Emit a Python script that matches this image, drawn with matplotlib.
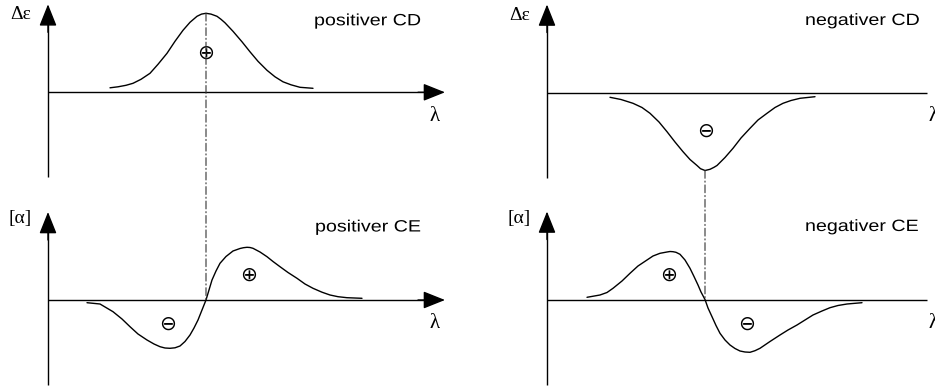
import numpy as np
import matplotlib
matplotlib.use("Agg")
import matplotlib.pyplot as plt
from matplotlib.patches import ConnectionPatch
from matplotlib.patheffects import AbstractPathEffect
from matplotlib.transforms import Affine2D

# ---- curve data: wavelength (arbitrary units) and signal (arbitrary units) ----
cd_pos_lam = [6.2, 7.0, 7.8, 8.5, 9.3, 10.2, 11.0, 11.9, 12.7, 13.5, 14.2, 14.9,
              15.35, 15.8, 16.3, 16.9, 17.3, 17.7, 18.5, 19.4, 20.2, 21.0, 21.9,
              22.7, 23.5, 24.3, 25.2, 26.5]
cd_pos_val = [0.45, 0.55, 0.7, 0.9, 1.3, 1.9, 2.8, 3.9, 5.1, 6.2, 7.0, 7.6,
              7.82, 7.9, 7.82, 7.6, 7.3, 6.95, 6.1, 5.05, 4.05, 3.1, 2.2,
              1.55, 1.05, 0.75, 0.5, 0.4]

cd_neg_lam = [6.3, 7.4, 8.6, 9.5, 10.3, 11.2, 12.0, 12.8, 13.6, 14.3, 15.0, 15.35,
              15.8, 16.3, 16.7, 17.0, 17.8, 18.6, 19.4, 20.3, 21.1, 22.0, 22.8,
              23.6, 24.4, 25.3, 26.8]
cd_neg_val = [-0.48, -0.7, -1.08, -1.5, -2.08, -2.95, -3.92, -4.95, -5.92, -6.7,
              -7.3, -7.62, -7.8, -7.68, -7.48, -7.3, -6.5, -5.58, -4.55, -3.58,
              -2.75, -2.08, -1.5, -1.08, -0.8, -0.58, -0.42]

ce_pos_lam = [3.9, 5.2, 6.5, 7.4, 8.2, 9.0, 9.9, 10.6, 11.2, 11.7, 12.2, 12.7,
              13.2, 13.7, 14.2, 14.6, 15.0, 15.4, 15.8, 16.1, 16.4, 16.8, 17.2,
              17.8, 18.5, 19.2, 19.55, 19.9, 20.2, 20.5, 21.2, 21.9, 22.5, 23.2,
              24.0, 24.9, 25.7, 26.5, 27.4, 28.2, 29.0, 29.9, 31.4]
ce_pos_val = [-0.27, -0.4, -1.17, -1.9, -2.67, -3.4, -4.0, -4.4, -4.67, -4.8,
              -4.83, -4.78, -4.6, -4.15, -3.5, -2.8, -2.0, -1.0, 0.0, 1.0, 2.0,
              2.9, 3.67, 4.35, 4.9, 5.15, 5.23, 5.27, 5.25, 5.17, 4.8, 4.33,
              3.85, 3.33, 2.75, 2.17, 1.6, 1.17, 0.78, 0.5, 0.33, 0.23, 0.17]

ce_neg_lam = [4.0, 5.3, 6.0, 6.6, 7.5, 8.3, 9.1, 10.0, 10.6, 11.3, 12.0, 12.3,
              12.6, 12.9, 13.3, 13.8, 14.3, 14.7, 15.1, 15.4, 15.8, 16.1, 16.5,
              16.9, 17.3, 17.8, 18.3, 18.8, 19.3, 19.8, 20.3, 20.8, 21.3, 22.3,
              23.3, 24.1, 25.0, 25.8, 26.6, 27.5, 28.3, 29.1, 30.0, 31.5]
ce_neg_val = [0.22, 0.45, 0.7, 1.12, 1.85, 2.62, 3.35, 3.95, 4.35, 4.62, 4.75,
              4.8, 4.78, 4.72, 4.52, 3.95, 3.12, 2.3, 1.45, 0.75, 0.0, -0.85,
              -1.72, -2.6, -3.38, -4.05, -4.55, -4.9, -5.15, -5.25, -5.28,
              -5.12, -4.88, -4.2, -3.55, -3.05, -2.55, -2.05, -1.55, -1.15,
              -0.82, -0.6, -0.45, -0.32]

# ---- labels ----
titles = ["positiver CD", "negativer CD", "positiver CE", "negativer CE"]
ylabels = ["Δε", "Δε", "[α]", "[α]"]
xlabel = "λ"
# sign markers: (λ, value, symbol)
signs_cd_pos = [(15.8, 3.93, "⊕")]
signs_cd_neg = [(15.9, -3.85, "⊖")]
signs_ce_pos = [(12.0, -2.4, "⊖"), (20.1, 2.5, "⊕")]
signs_ce_neg = [(12.2, 2.45, "⊕"), (20.0, -2.45, "⊖")]

W, H = 935, 389
DPI = 100
fig = plt.figure(figsize=(W / DPI, H / DPI), dpi=DPI)
fig.patch.set_facecolor("white")

UNIT = 10.0  # pixels per data unit in every panel


class HStretch(AbstractPathEffect):
    """Widen glyphs horizontally about the text origin."""

    def __init__(self, factor):
        super().__init__()
        self._factor = factor

    def draw_path(self, renderer, gc, tpath, affine, rgbFace=None):
        renderer.draw_path(gc, tpath, Affine2D().scale(self._factor, 1.0) + affine,
                           rgbFace)


def make_panel(ox, oy):
    """Full-figure transparent axes whose origin sits at pixel (ox, oy)."""
    ax = fig.add_axes([0, 0, 1, 1])
    ax.set_xlim(-ox / UNIT, (W - ox) / UNIT)
    ax.set_ylim((oy - H) / UNIT, oy / UNIT)
    ax.axis("off")
    ax.patch.set_alpha(0)
    return ax


def draw_frame(ax, ylab, title, title_x, title_y, ylab_y):
    arrow = dict(arrowstyle="-|>,head_length=13.5,head_width=5.4",
                 mutation_scale=1, lw=1.0, color="black",
                 shrinkA=0, shrinkB=0)
    ax.plot([0, 0], [-8.5, 7.5], color="black", lw=1.0, solid_capstyle="butt")
    ax.annotate("", xy=(0, 8.8), xytext=(0, 6.0), arrowprops=arrow)
    ax.plot([0, 38.0], [0, 0], color="black", lw=1.0, solid_capstyle="butt")
    ax.annotate("", xy=(39.7, 0), xytext=(37.0, 0), arrowprops=arrow)
    ax.text(-2.75, ylab_y, ylab, ha="center", va="baseline", fontsize=14,
            family=["Liberation Serif", "DejaVu Serif"])
    ax.text(38.7, -2.4, xlabel, ha="center", va="center", fontsize=15,
            family=["Liberation Serif", "DejaVu Serif"])
    ax.text(title_x, title_y, title, ha="left", va="baseline", fontsize=11.8,
            family=["Liberation Sans", "DejaVu Sans"],
            path_effects=[HStretch(1.2)])


def draw_curve(ax, lam, val, signs):
    ax.plot(lam, val, color="black", lw=1.0, solid_joinstyle="round",
            solid_capstyle="round")
    for x, y, s in signs:
        ax.text(x, y, s, ha="center", va="center", fontsize=14.5,
                family=["DejaVu Sans"])


ax_ul = make_panel(48, 92.3)
ax_ur = make_panel(547, 92.5)
ax_ll = make_panel(48, 300)
ax_lr = make_panel(547, 299.5)

draw_frame(ax_ul, ylabels[0], titles[0], 26.6, 6.7, 7.3)
draw_frame(ax_ur, ylabels[1], titles[1], 25.8, 6.75, 7.3)
draw_frame(ax_ll, ylabels[2], titles[2], 26.7, 6.85, 7.7)
draw_frame(ax_lr, ylabels[3], titles[3], 25.8, 6.85, 7.7)

draw_curve(ax_ul, cd_pos_lam, cd_pos_val, signs_cd_pos)
draw_curve(ax_ur, cd_neg_lam, cd_neg_val, signs_cd_neg)
draw_curve(ax_ll, ce_pos_lam, ce_pos_val, signs_ce_pos)
draw_curve(ax_lr, ce_neg_lam, ce_neg_val, signs_ce_neg)


def zero_crossing(lam, val):
    i = int(np.argmin(np.abs(np.asarray(val))[3:-3])) + 3
    return lam[i], val[i]


def extremum(lam, val):
    v = np.asarray(val)
    i = int(np.argmax(np.abs(v)))
    return lam[i], val[i]


# dash-dot guides from the CD extremum to the Cotton-effect zero crossing
for ax_a, la, va, ax_b, lb, vb in [
        (ax_ul, cd_pos_lam, cd_pos_val, ax_ll, ce_pos_lam, ce_pos_val),
        (ax_ur, cd_neg_lam, cd_neg_val, ax_lr, ce_neg_lam, ce_neg_val)]:
    con = ConnectionPatch(xyA=extremum(la, va), coordsA=ax_a.transData,
                          xyB=zero_crossing(lb, vb), coordsB=ax_b.transData,
                          color="#333333", lw=0.8,
                          linestyle=(0, (7, 2.5, 1, 2.5)))
    fig.add_artist(con)

fig.savefig("out.png", dpi=DPI, facecolor="white")
